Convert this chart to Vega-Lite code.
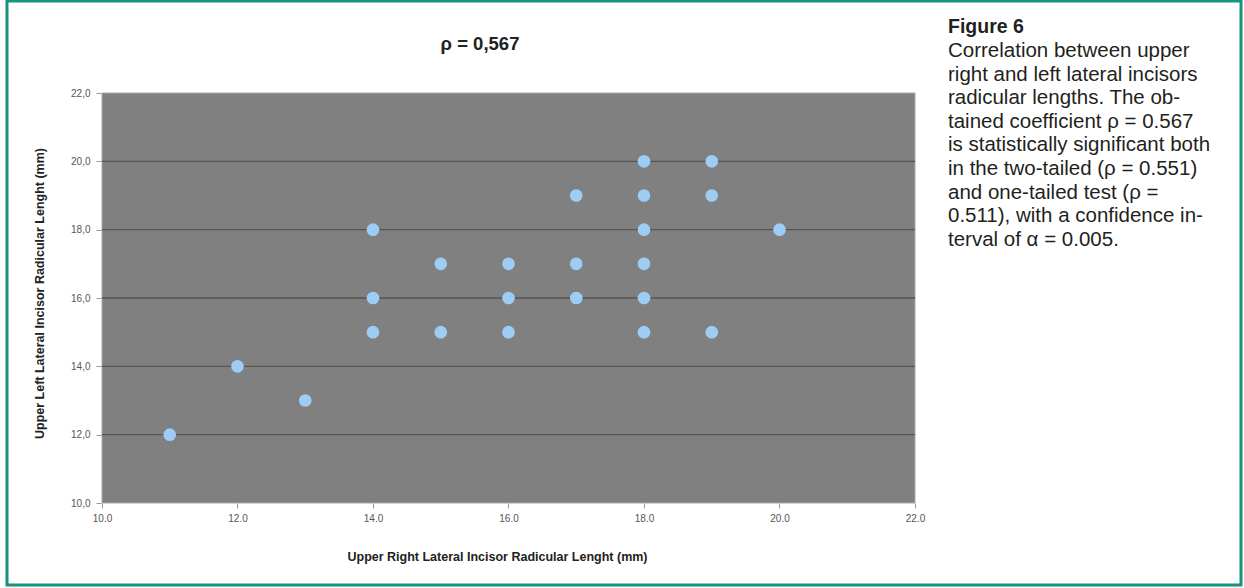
{
  "$schema": "https://vega.github.io/schema/vega-lite/v6.json",
  "width": 1234,
  "height": 584,
  "autosize": {"type": "none"},
  "padding": {"left": 7, "top": 1, "right": 3, "bottom": 3},
  "background": "white",
  "view": {"fill": "white", "stroke": "#17937f", "strokeWidth": 3},
  "title": {
    "text": "ρ = 0,567",
    "anchor": "middle",
    "frame": "group",
    "offset": -52,
    "dx": -144,
    "font": "Liberation Sans",
    "fontSize": 18.5,
    "fontWeight": "bold",
    "color": "#222222"
  },
  "datasets": {
    "points": [
      {"right": 11, "left": 12},
      {"right": 12, "left": 14},
      {"right": 13, "left": 13},
      {"right": 14, "left": 18},
      {"right": 14, "left": 16},
      {"right": 14, "left": 15},
      {"right": 15, "left": 17},
      {"right": 15, "left": 15},
      {"right": 16, "left": 17},
      {"right": 16, "left": 16},
      {"right": 16, "left": 15},
      {"right": 17, "left": 19},
      {"right": 17, "left": 17},
      {"right": 17, "left": 16},
      {"right": 18, "left": 20},
      {"right": 18, "left": 19},
      {"right": 18, "left": 18},
      {"right": 18, "left": 17},
      {"right": 18, "left": 16},
      {"right": 18, "left": 15},
      {"right": 19, "left": 20},
      {"right": 19, "left": 19},
      {"right": 19, "left": 15},
      {"right": 20, "left": 18}
    ],
    "grid": [{"g": 12}, {"g": 14}, {"g": 16}, {"g": 18}, {"g": 20}],
    "caption": [
      {
        "heading": "Figure 6",
        "body": "Correlation between upper\nright and left lateral incisors\nradicular lengths. The ob-\ntained coefficient ρ  = 0.567\nis statistically significant both\nin the two-tailed (ρ  = 0.551)\nand one-tailed test (ρ  =\n0.511), with a confidence in-\nterval of α = 0.005."
      }
    ]
  },
  "layer": [
    {
      "data": {"values": [{}]},
      "mark": {"type": "rect", "fill": "#808080", "stroke": "#a8a8a8", "strokeWidth": 1},
      "encoding": {
        "x": {"datum": 10, "type": "quantitative"},
        "x2": {"datum": 22},
        "y": {"datum": 10, "type": "quantitative"},
        "y2": {"datum": 22}
      }
    },
    {
      "data": {"name": "grid"},
      "mark": {"type": "rule", "stroke": "#555555", "strokeWidth": 1.3},
      "encoding": {
        "x": {"datum": 10, "type": "quantitative"},
        "x2": {"datum": 22},
        "y": {"field": "g", "type": "quantitative"}
      }
    },
    {
      "data": {"name": "points"},
      "mark": {"type": "point", "filled": true, "shape": "circle", "size": 160, "color": "#9dcdf5", "opacity": 1},
      "encoding": {
        "x": {
          "field": "right",
          "type": "quantitative",
          "scale": {"domain": [8.5978, 26.8118], "nice": false, "zero": false},
          "axis": {
            "values": [10, 12, 14, 16, 18, 20, 22],
            "format": ".1f",
            "offset": -82,
            "domain": false,
            "grid": false,
            "ticks": true,
            "tickSize": 5,
            "tickColor": "#999999",
            "labelFont": "Liberation Sans",
            "labelFontSize": 10,
            "labelColor": "#555555",
            "labelPadding": 5,
            "title": "Upper Right Lateral Incisor Radicular Lenght (mm)",
            "titleFont": "Liberation Sans",
            "titleFontSize": 12.5,
            "titleFontWeight": "bold",
            "titleColor": "#222222",
            "titlePadding": 27,
            "titleX": 490
          }
        },
        "y": {
          "field": "left",
          "type": "quantitative",
          "scale": {"domain": [7.6, 24.6927], "nice": false, "zero": false},
          "axis": {
            "values": [10, 12, 14, 16, 18, 20, 22],
            "labelExpr": "replace(format(datum.value, '.1f'), '.', ',')",
            "offset": -94,
            "domain": false,
            "grid": false,
            "ticks": true,
            "tickSize": 5,
            "tickColor": "#999999",
            "labelFont": "Liberation Sans",
            "labelFontSize": 10,
            "labelColor": "#555555",
            "labelPadding": 6,
            "title": "Upper Left Lateral Incisor Radicular Lenght (mm)",
            "titleFont": "Liberation Sans",
            "titleFontSize": 12.5,
            "titleFontWeight": "bold",
            "titleColor": "#222222",
            "titlePadding": 24
          }
        }
      }
    },
    {
      "data": {"name": "caption"},
      "mark": {"type": "text", "align": "left", "baseline": "alphabetic", "font": "Liberation Sans", "fontSize": 19.5, "fontWeight": "bold", "color": "#231f20"},
      "encoding": {
        "x": {"datum": 22.487, "type": "quantitative"},
        "y": {"datum": 23.756, "type": "quantitative"},
        "text": {"field": "heading"}
      }
    },
    {
      "data": {"name": "caption"},
      "mark": {"type": "text", "align": "left", "baseline": "alphabetic", "font": "Liberation Sans", "fontSize": 20.5, "lineBreak": "\n", "lineHeight": 23.6, "color": "#231f20"},
      "encoding": {
        "x": {"datum": 22.487, "type": "quantitative"},
        "y": {"datum": 23.054, "type": "quantitative"},
        "text": {"field": "body"}
      }
    }
  ]
}
